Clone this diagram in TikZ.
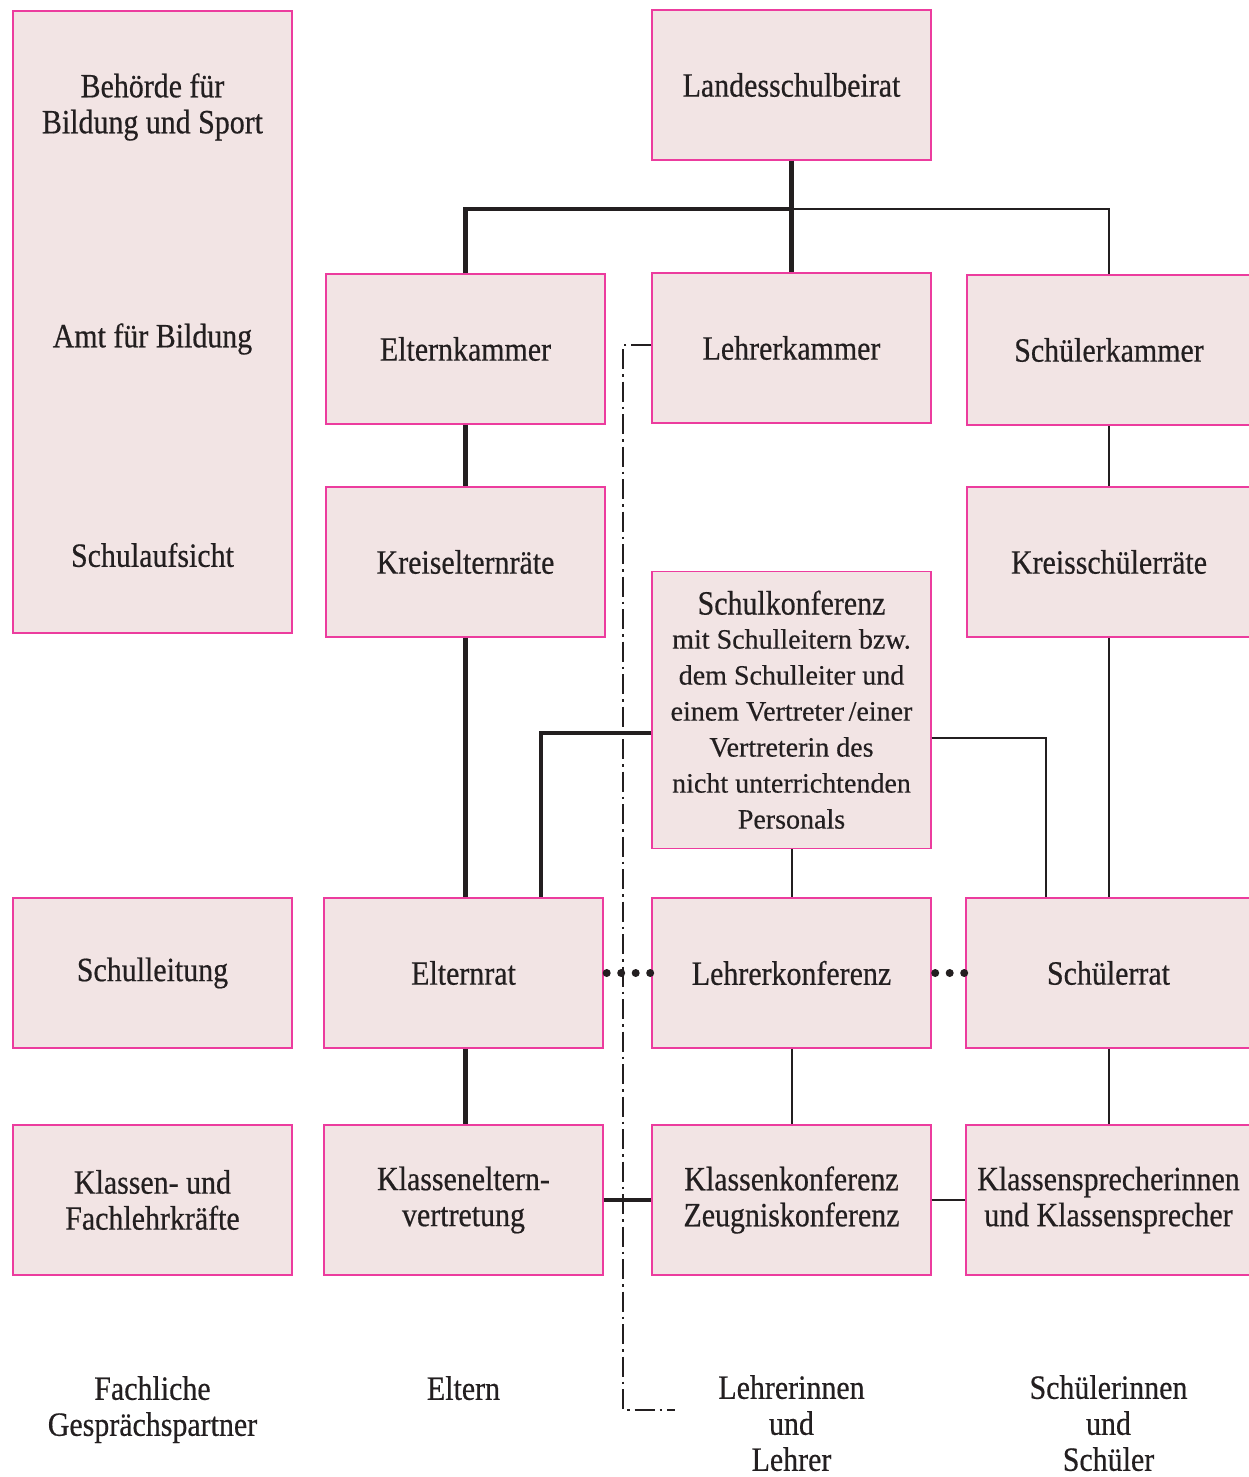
\documentclass[tikz,border=0pt]{standalone}
\usepackage{fontspec}
\setmainfont[FakeStretch=0.88, FakeBold=0.5]{Liberation Serif}
\newfontfamily\smallfont[FakeBold=0.4]{Liberation Serif}
\definecolor{boxfill}{HTML}{F2E4E4}
\definecolor{boxline}{HTML}{EC3C9E}
\definecolor{ink}{HTML}{231F20}
\tikzset{
  box/.style={draw=boxline, fill=boxfill, line width=1.4pt, minimum width=279pt,
    minimum height=150pt, inner sep=0pt, align=center, text=ink,
    font=\fontsize{34}{36}\selectfont},
  lbl/.style={inner sep=0pt, align=center, text=ink, font=\fontsize{34}{36}\selectfont},
  thickline/.style={draw=ink, line width=4.5pt},
  thinline/.style={draw=ink, line width=2pt},
  dotline/.style={draw=ink, line width=8pt, line cap=round, dash pattern=on 0pt off 14.5pt},
  dashdotline/.style={draw=ink, line width=2pt, dash pattern=on 20pt off 5pt on 2.5pt off 5pt}
}
\begin{document}
\begin{tikzpicture}[x=1pt, y=-1pt]
  \useasboundingbox (0,0) rectangle (1249,1477);

  % left column
  \node[box, minimum height=622pt] (behoerde) at (152.5,322) {};
  \node[lbl] (bbs) at (152.5,107) {Behörde für\\Bildung und Sport};
  \node[lbl] (afb) at (152.5,339) {Amt für Bildung};
  \node[lbl] (sa) at (152.5,555) {Schulaufsicht};
  \node[box] (schulleitung) at (152.5,973) {Schulleitung};
  \node[box] (fachlehr) at (152.5,1200) {Klassen- und\\Fachlehrkräfte};

  % parents
  \node[box] (elternkammer) at (465.5,349) {Elternkammer};
  \node[box] (kreiseltern) at (465.5,562) {Kreiselternräte};
  \node[box] (elternrat) at (463.5,973) {Elternrat};
  \node[box] (klasseneltern) at (463.5,1200) {Klasseneltern-\\vertretung};

  % teachers
  \node[box] (landes) at (791.5,85) {Landesschulbeirat};
  \node[box] (lehrerkammer) at (791.5,348) {Lehrerkammer};
  \node[box, minimum height=277pt, anchor=north] (schulkonf) at (791.5,571)
    {\raisebox{0pt}[23pt][0pt]{Schulkonferenz}\\[-2pt]
     \smallfont\fontsize{28}{36}\selectfont mit Schulleitern bzw.\\
     \smallfont\fontsize{28}{36}\selectfont dem Schulleiter und\\
     \smallfont\fontsize{28}{36}\selectfont einem Vertreter\,/einer\\
     \smallfont\fontsize{28}{36}\selectfont Vertreterin des\\
     \smallfont\fontsize{28}{36}\selectfont nicht unterrichtenden\\
     \smallfont\fontsize{28}{36}\selectfont Personals};
  \node[box] (lehrerkonf) at (791.5,973) {Lehrerkonferenz};
  \node[box] (klassenkonf) at (791.5,1200) {Klassenkonferenz\\Zeugniskonferenz};

  % pupils
  \node[box, minimum width=284pt] (schuelerkammer) at (1109,350) {Schülerkammer};
  \node[box, minimum width=284pt] (kreisschueler) at (1109,562) {Kreisschülerräte};
  \node[box, minimum width=285pt] (schuelerrat) at (1108.5,973) {Schülerrat};
  \node[box, minimum width=285pt] (klassensprecher) at (1108.5,1200) {Klassensprecherinnen\\und Klassensprecher};

  % bottom labels
  \node[lbl, anchor=north] (fgp) at (152.5,1376) {Fachliche\\Gesprächspartner};
  \node[lbl, anchor=north] (eltern) at (463.5,1376) {Eltern};
  \node[lbl, anchor=north] (lehrer) at (791.5,1375) {Lehrerinnen\\und\\Lehrer};
  \node[lbl, anchor=north] (schueler) at (1108.5,1375) {Schülerinnen\\und\\Schüler};

  % connectors
  \coordinate (j) at (791.5,209);
  \draw[thickline] (landes.south) -- (lehrerkammer.north);
  \draw[thickline] (elternkammer.north) |- (j);
  \draw[thinline] (j) -| (schuelerkammer.north);
  \draw[thickline] (elternkammer.south) -- (kreiseltern.south |- kreiseltern.north);
  \draw[thickline] (kreiseltern.south) -- (kreiseltern.south |- elternrat.north);
  \draw[thickline] (schulkonf.west |- 0,733) -| ([xshift=77.5pt]elternrat.north);
  \draw[thinline] (schulkonf.east |- 0,738) -| ([xshift=-62.5pt]schuelerrat.north);
  \draw[thinline] (schulkonf.south) -- (lehrerkonf.north);
  \draw[thinline] (schuelerkammer.south) -- (kreisschueler.north);
  \draw[thinline] (kreisschueler.south) -- (kreisschueler.south |- schuelerrat.north);
  \draw[thickline] (kreiseltern.south |- elternrat.south) -- (kreiseltern.south |- klasseneltern.north);
  \draw[thinline] (lehrerkonf.south) -- (lehrerkonf.south |- klassenkonf.north);
  \draw[thinline] (schuelerrat.south) -- (klassensprecher.north);
  \draw[thickline] (klasseneltern.east) -- (klassenkonf.west);
  \draw[thinline] (klassenkonf.east) -- (klassensprecher.west);
  \draw[dotline] ([xshift=3pt]elternrat.east) -- (lehrerkonf.west);
  \draw[dotline] ([xshift=3.5pt]lehrerkonf.east) -- (schuelerrat.west);

  % dash-dot bracket
  \coordinate (dd) at (675,1410);
  \draw[dashdotline] (lehrerkammer.west |- 0,345) -- (623,345) |- (dd);
\end{tikzpicture}
\end{document}
